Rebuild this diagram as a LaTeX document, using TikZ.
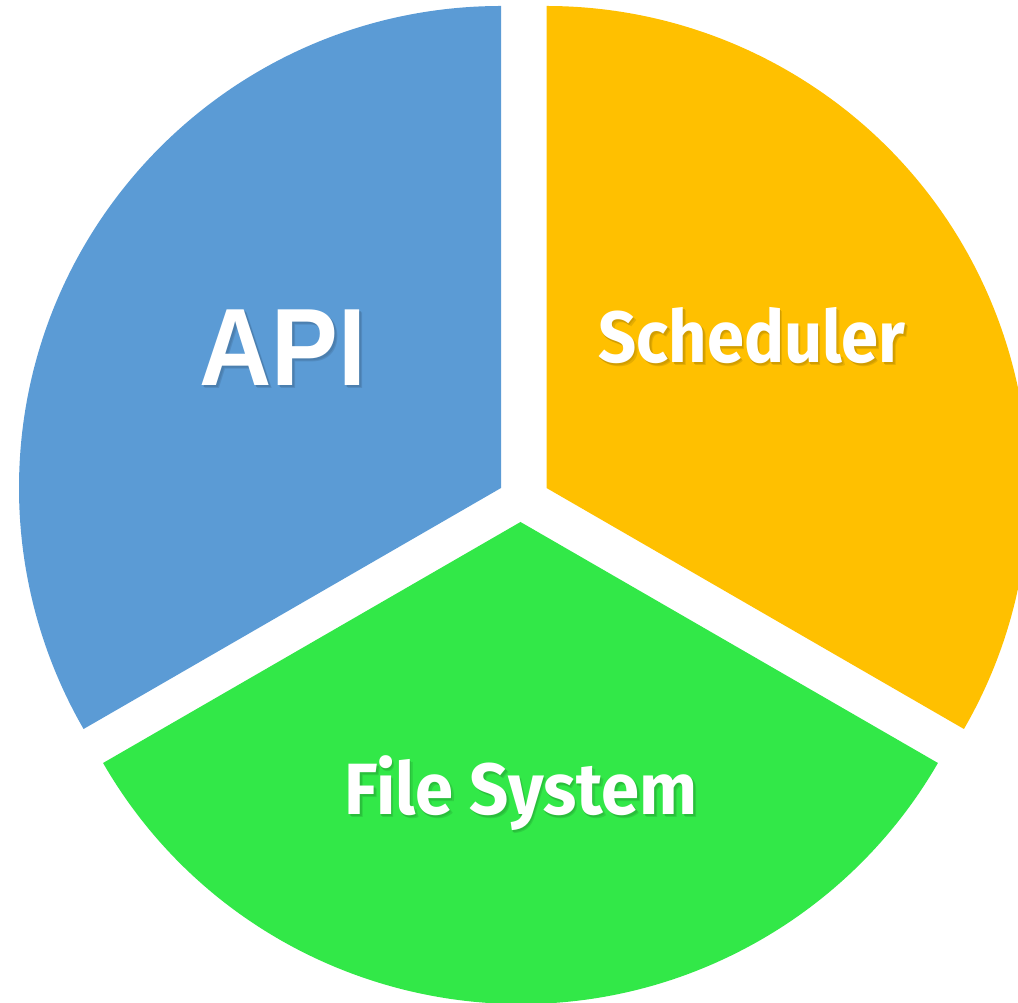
\documentclass[tikz,border=0pt]{standalone}
\usepackage{fontspec}
\setmainfont{Liberation Sans}
\newfontfamily\labfont{Fira Sans}
\definecolor{pieblue}{RGB}{91,155,213}
\definecolor{pieyellow}{RGB}{255,192,0}
\definecolor{piegreen}{RGB}{50,232,72}
\newcommand{\shtxt}[2]{\leavevmode
  \rlap{\kern3pt\raisebox{-3pt}{\textcolor{#1!90!black}{#2}}}%
  \rlap{\kern1.6pt\raisebox{-1.6pt}{\textcolor{#1!82!black}{#2}}}%
  \textcolor{white}{#2}}
\tikzset{
  lab/.style={anchor=base, inner sep=0pt},
}
\begin{document}
\begin{tikzpicture}[x=1pt,y=1pt]
\useasboundingbox (0,0) rectangle (1018,1002);
\clip (0,0) rectangle (1018,1002);
% segments
\fill[pieblue] (501,514) -- ++(90:482) arc[start angle=90, end angle=210, radius=482] -- cycle;
\fill[pieyellow] (546.5,514) -- ++(-30:482) arc[start angle=-30, end angle=90, radius=482] -- cycle;
\fill[piegreen] (520.5,480) -- ++(210:482) arc[start angle=210, end angle=330, radius=482] -- cycle;
% labels
\node[lab, xscale=0.91] (api) at (283,616) {\fontsize{110}{110}\selectfont\bfseries\shtxt{pieblue}{API}};
\node[lab, xscale=0.92] (sched) at (752,639) {\fontsize{72.6}{72.6}\selectfont\labfont\bfseries\shtxt{pieyellow}{Scheduler}};
\node[lab, xscale=0.946] (fs) at (521,187) {\fontsize{72.6}{72.6}\selectfont\labfont\bfseries\shtxt{piegreen}{File System}};
\end{tikzpicture}
\end{document}
